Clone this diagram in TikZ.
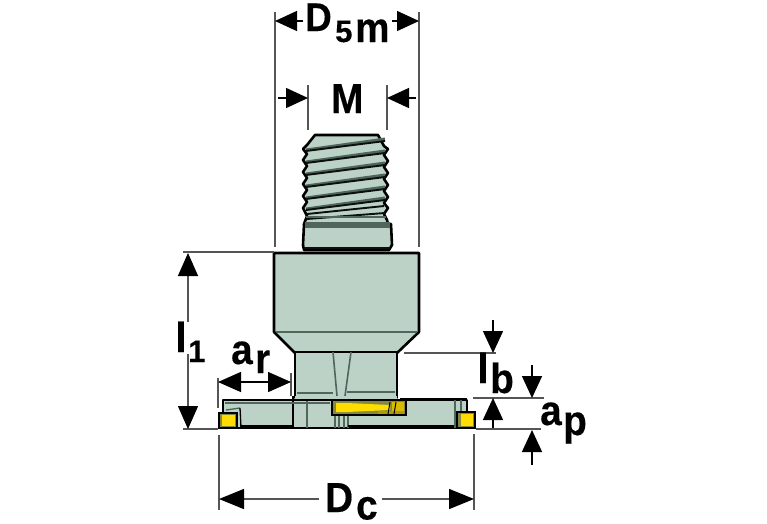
\documentclass[tikz,border=0pt]{standalone}
\usepackage{fontspec}
\usepackage{graphicx}
\setmainfont{Liberation Sans}[BoldFeatures={FakeBold=0.4}]
\usetikzlibrary{arrows.meta}
\definecolor{steel}{HTML}{BCD2C6}
\definecolor{darksteel}{HTML}{4E665C}
\definecolor{insert}{HTML}{FFDD00}
\definecolor{dimgrey}{HTML}{555555}
\newcommand{\narrowed}[1]{\scalebox{.92}[1]{#1}}
\tikzset{
  x=1pt,y=-1pt,
  part/.style={fill=steel,draw=black,line width=2.6pt,line join=round},
  edge/.style={draw=darksteel,line width=1.3pt},
  groove/.style={draw=black!85!darksteel,line width=1.9pt},
  ext/.style={draw=dimgrey,line width=1.6pt},
  dima/.style={draw=black,line width=1.4pt,-{Triangle[length=22pt,width=20pt]}},
  dimb/.style={draw=black,line width=1.4pt,{Triangle[length=23pt,width=20pt]}-{Triangle[length=23pt,width=20pt]}},
  lab/.style={anchor=base west,inner sep=0pt,font=\bfseries\fontsize{42}{42}\selectfont},
  labtop/.style={anchor=base west,inner sep=0pt,font=\bfseries\fontsize{40}{40}\selectfont},
  sub/.style={anchor=base west,inner sep=0pt,font=\bfseries\fontsize{31}{31}\selectfont},
}
\begin{document}
\begin{tikzpicture}
\useasboundingbox (0,0) rectangle (767,523);
% thread
\path[part] (315,135) -- (378,135) -- (384,146) -- (388,149) -- (384,155) -- (388,161) -- (384,167) -- (388,173) -- (384,179) -- (388,185) -- (384,191) -- (388,197) -- (384,203) -- (388,208) -- (384,214) -- (387,220) -- (388,224)
  -- (304,224) -- (307,216) -- (303,208) -- (307,202) -- (303,196) -- (307,190) -- (303,184) -- (307,178) -- (303,172) -- (307,166) -- (303,160) -- (307,154) -- (303,149) -- (307,145) -- cycle;
\foreach \y in {150,162,174,186,198,209}{
  \draw[draw=darksteel,line width=3pt] (306,\y) -- (385,\y-11);
  \draw[groove] (306,\y+1) -- (385,\y-9);
}
\draw[groove] (307,214) -- (384,206);
\draw[groove] (307,219) -- (385,213);
\draw[draw=darksteel,line width=1.5pt] (306,217) -- (386,217);
% collar
\path[part] (304,224) -- (391,224) -- (392,245) -- (389,250) -- (304,250) -- (303,245) -- cycle;
\fill[darksteel] (305,222) rectangle (390,228);
\draw[groove] (304,248) -- (390,248);
% body
\path[part] (274,253) -- (419,253) -- (419,332) -- (397,353) -- (295,353) -- (274,332) -- cycle;
\draw[edge] (276,332) -- (417,332);
% neck
\path[part] (295,352) -- (397,352) -- (397,398) -- (295,398) -- cycle;
\draw[edge,line width=1.6pt] (333,352) -- (337,396);
\draw[edge,line width=1.6pt] (351,352) -- (345,396);
\draw[edge] (297,393) -- (333,393);
\draw[edge] (347,392) -- (395,392);
% flange
\path[part] (223,400) -- (467,400) -- (467,428) -- (223,428) -- cycle;
\fill[steel] (295,396) rectangle (397,399);
\draw[line width=1.6pt] (293,396) -- (293,428);
\draw[edge] (307,400) -- (307,428);
\draw[edge] (335,414) -- (335,428);
\draw[edge] (339,414) -- (339,428);
\draw[edge] (344,414) -- (344,428);
\draw[edge] (348,414) -- (348,428);
\draw[edge,line width=1.5pt] (225,403) -- (330,403);
\draw[line width=1.5pt] (223,400) -- (400,400);
\draw[line width=2.8pt] (400,399) -- (467,399);
\draw[line width=2.2pt] (348,426) -- (456,426);
\draw[line width=2.2pt] (240,426) -- (292,426);
% central insert
\path[fill=darksteel!70!insert,draw=black,line width=1.6pt] (332,400) rectangle (406,415);
\fill[insert] (336,403) -- (347,403) -- (390,405) -- (390,410) -- (347,412) -- (336,412) -- cycle;
\fill[insert!70!black] (378,411) rectangle (404,414);
\fill[insert!85!black] (392,402) rectangle (404,411);
\draw[line width=1pt] (390,402) -- (388,414);
\draw[line width=1pt] (396,402) -- (394,414);
% corner inserts
\draw[edge] (226,410) -- (240,408);
\draw[line width=1.3pt] (240,408) -- (241,427);
\draw[edge] (455,400) -- (455,428);
\draw[edge] (461,400) -- (461,412);
\path[fill=darksteel!70!insert,draw=black,line width=1.6pt] (219,413) rectangle (237,428);
\fill[insert] (222,415) rectangle (235,426);
\path[fill=darksteel!70!insert,draw=black,line width=1.6pt] (457,412) rectangle (475,428);
\fill[insert] (461,414) rectangle (473,426);
% named coordinates for dimensions
\coordinate (d5a) at (275,21); \coordinate (d5b) at (419,21);
\coordinate (ma) at (308,98); \coordinate (mb) at (387,98);
\coordinate (lone) at (188,253); \coordinate (lonee) at (188,322);
\coordinate (ltwo) at (188,429); \coordinate (ltwoe) at (188,354);
\coordinate (ara) at (218,382); \coordinate (arb) at (291,382);
\coordinate (dca) at (219,499); \coordinate (dcb) at (474,499);
\coordinate (dcae) at (319,499); \coordinate (dcbe) at (382,499);
\coordinate (lbt) at (493,353); \coordinate (lbb) at (493,398);
\coordinate (apt) at (532,398); \coordinate (apb) at (532,430);
% extension lines
\draw[ext] (275,12) -- (275,247);
\draw[ext] (419,12) -- (419,247);
\draw[ext] (308,85) -- (308,130);
\draw[ext] (387,85) -- (387,130);
\draw[ext] (183,252) -- (274,252);
\draw[ext] (183,429) -- (218,429);
\draw[ext] (218,378) -- (218,408);
\draw[ext] (291,373) -- (291,396);
\draw[ext] (404,353) -- (496,353);
\draw[ext] (473,398) -- (544,398);
\draw[ext] (476,429) -- (541,429);
\draw[ext] (219,435) -- (219,510);
\draw[ext] (474,434) -- (474,510);
% dimension arrows
\draw[dima] (303,21) -- (d5a);
\draw[dima] (392,21) -- (d5b);
\draw[dima] (278,98) -- (ma);
\draw[dima] (416,98) -- (mb);
\draw[dima,draw=dimgrey,-{Triangle[length=23pt,width=20pt,color=black]}] (lonee) -- (lone);
\draw[dima,draw=dimgrey,-{Triangle[length=23pt,width=20pt,color=black]}] (ltwoe) -- (ltwo);
\draw[dimb] (ara) -- (arb);
\draw[dima,draw=dimgrey,-{Triangle[length=25pt,width=20pt,color=black]}] (dcae) -- (dca);
\draw[dima,draw=dimgrey,-{Triangle[length=25pt,width=20pt,color=black]}] (dcbe) -- (dcb);
\draw[dima] (493,320) -- (lbt);
\draw[dima] (493,428) -- (lbb);
\draw[dima] (532,365) -- (apt);
\draw[dima] (532,465) -- (apb);
% labels
\node[labtop] (t1) at (305,31) {\narrowed{D}};
\node[sub] (t2) at (335,42) {5};
\node[lab] (t3) at (355,42) {\narrowed{m}};
\node[lab] (t4) at (331,113) {\narrowed{M}};
\node[lab] (t5) at (175,352) {l};
\node[sub] (t6) at (188,362) {1};
\node[lab] (t7) at (231,364) {\narrowed{a}};
\node[lab] (t8) at (255,373) {\narrowed{r}};
\node[lab] (t9) at (477,383) {l};
\node[lab] (t10) at (490,393) {\narrowed{b}};
\node[lab] (t11) at (540,425) {\narrowed{a}};
\node[lab] (t12) at (563,435) {\narrowed{p}};
\node[lab] (t13) at (325,512) {\narrowed{D}};
\node[lab] (t14) at (356,519.5) {\narrowed{c}};
\end{tikzpicture}
\end{document}
